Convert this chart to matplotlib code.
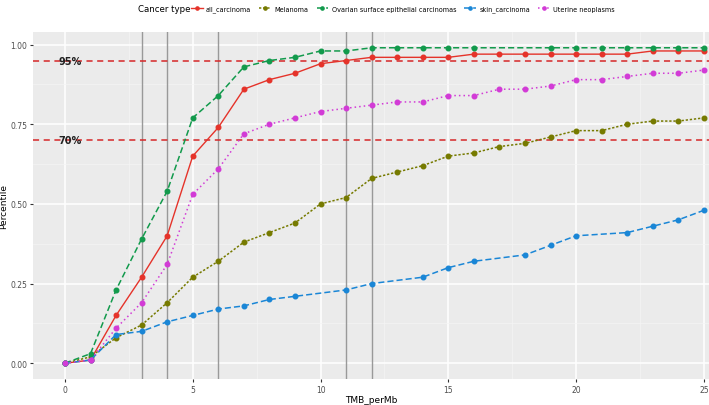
import matplotlib
matplotlib.use('Agg')
import matplotlib.pyplot as plt
import numpy as np

# ------------------------------------------------------------------
# data (TMB_perMb vs percentile)
# ------------------------------------------------------------------
tmb = list(range(0, 26))

all_carcinoma = [0.00, 0.01, 0.15, 0.27, 0.40, 0.65, 0.74, 0.86, 0.89, 0.91,
                 0.94, 0.95, 0.96, 0.96, 0.96, 0.96, 0.97, 0.97, 0.97, 0.97,
                 0.97, 0.97, 0.97, 0.98, 0.98, 0.98]
melanoma = [0.00, 0.02, 0.08, 0.12, 0.19, 0.27, 0.32, 0.38, 0.41, 0.44,
            0.50, 0.52, 0.58, 0.60, 0.62, 0.65, 0.66, 0.68, 0.69, 0.71,
            0.73, 0.73, 0.75, 0.76, 0.76, 0.77]
ovarian_x = [0, 1, 2, 3, 4, 5, 6, 7, 8, 9, 10, 11, 12, 13, 14, 15, 16,
             19, 20, 21, 22, 23, 24, 25]
ovarian = [0.00, 0.03, 0.23, 0.39, 0.54, 0.77, 0.84, 0.93, 0.95, 0.96,
           0.98, 0.98, 0.99, 0.99, 0.99, 0.99, 0.99,
           0.99, 0.99, 0.99, 0.99, 0.99, 0.99, 0.99]
skin_x = [0, 1, 2, 3, 4, 5, 6, 7, 8, 9, 11, 12, 14, 15, 16, 18, 19, 20,
          22, 23, 24, 25]
skin = [0.00, 0.01, 0.09, 0.10, 0.13, 0.15, 0.17, 0.18, 0.20, 0.21,
        0.23, 0.25, 0.27, 0.30, 0.32, 0.34, 0.37, 0.40,
        0.41, 0.43, 0.45, 0.48]
uterine = [0.00, 0.01, 0.11, 0.19, 0.31, 0.53, 0.61, 0.72, 0.75, 0.77,
           0.79, 0.80, 0.81, 0.82, 0.82, 0.84, 0.84, 0.86, 0.86, 0.87,
           0.89, 0.89, 0.90, 0.91, 0.91, 0.92]

vlines = [3, 4, 6, 11, 12]
hlines = [0.95, 0.70]
hlabels = ['95%', '70%']

# ------------------------------------------------------------------
fig = plt.figure(figsize=(7.09, 4.06), dpi=100)
ax = fig.add_axes([33/709, 26/406, 1 - 33/709, (380-33)/406])
ax.set_facecolor('#EBEBEB')

ax.set_xlim(-1.25, 25.2)
ax.set_ylim(-0.0495, 1.0395)
ax.set_xticks([0, 5, 10, 15, 20, 25])
ax.set_xticks([2.5, 7.5, 12.5, 17.5, 22.5], minor=True)
ax.set_yticks([0, 0.25, 0.5, 0.75, 1.0])
ax.set_yticklabels(['0.00', '0.25', '0.50', '0.75', '1.00'])
ax.set_yticks([0.125, 0.375, 0.625, 0.875], minor=True)
ax.grid(which='major', color='white', linewidth=1.1)
ax.grid(which='minor', color='#F5F5F5', linewidth=0.5)
ax.set_axisbelow(True)
for s in ax.spines.values():
    s.set_visible(False)
ax.tick_params(which='major', length=2, color='#333333', labelsize=5.5,
               labelcolor='#4D4D4D', pad=2)
ax.tick_params(which='minor', length=0)

for v in vlines:
    ax.axvline(v, color='#999999', linewidth=1, zorder=1.5)
for h, lab in zip(hlines, hlabels):
    ax.axhline(h, color='#D62728', linestyle=(0, (4, 3)), linewidth=1.1, zorder=1.6)
    ax.text(0.2, h, lab, ha='center', va='center', fontsize=7,
            fontweight='bold', color='#222222', zorder=5)

ms = 3.3
ax.plot(tmb, all_carcinoma, color='#E5332A', linestyle='-', linewidth=1,
        marker='o', markersize=ms, label='all_carcinoma', zorder=3)
ax.plot(tmb, melanoma, color='#767A00', linestyle=(0, (1.5, 1.2)), linewidth=1.1,
        marker='o', markersize=ms, label='Melanoma', zorder=3)
ax.plot(ovarian_x, ovarian, color='#129A4C', linestyle=(0, (4, 2)), linewidth=1.1,
        marker='o', markersize=ms, label='Ovarian surface epithelial carcinomas', zorder=3)
ax.plot(skin_x, skin, color='#1A86D6', linestyle=(0, (4, 2)), linewidth=1.1,
        marker='o', markersize=ms, label='skin_carcinoma', zorder=3)
ax.plot(tmb, uterine, color='#D23BD6', linestyle=(0, (1, 2)), linewidth=1.1,
        marker='o', markersize=ms, label='Uterine neoplasms', zorder=3)

ax.set_xlabel('TMB_perMb', fontsize=6.5, labelpad=1)
ax.set_ylabel('Percentile', fontsize=6.5, labelpad=2)

fig.text(138/709, 1 - 10/406, 'Cancer type', fontsize=6.2, va='center', ha='left')
fig.legend(loc='center left', bbox_to_anchor=(191/709, 1 - 10/406), ncol=5,
           frameon=False, fontsize=4.7, handlelength=1.8, handletextpad=0.5,
           columnspacing=1.25, borderpad=0, borderaxespad=0, markerscale=0.7)

fig.savefig('out.png', dpi=100)
